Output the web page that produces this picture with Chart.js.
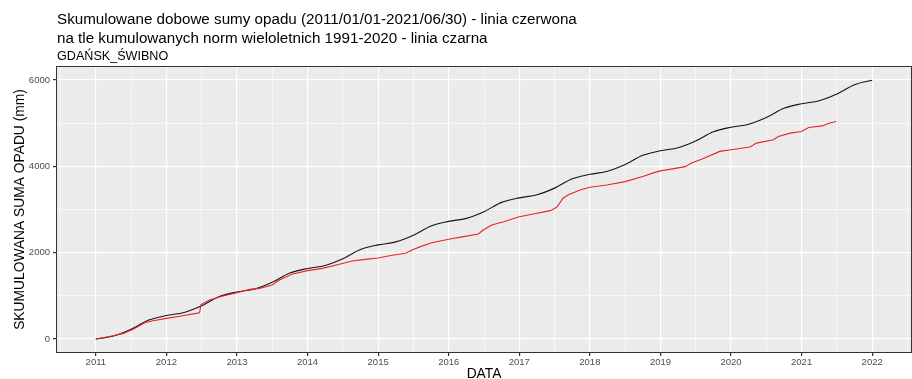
<!DOCTYPE html>
<html>
<head>
<meta charset="utf-8">
<script src="https://cdn.jsdelivr.net/npm/chart.js@4"></script>
<style>
  body { margin: 0; background: #fff; font-family: "Liberation Sans", Arial, sans-serif; }
  #wrap { position: relative; width: 912px; height: 379px; }
  #title { position: absolute; left: 57px; top: 9px; color: #000; }
  #title .t { font-size: 15.2px; line-height: 19px; }
  #title .s { font-size: 12.6px; line-height: 18px; }
</style>
</head>
<body>
<div id="wrap">
  <canvas id="chart" width="912" height="379"></canvas>
  <div id="title">
    <div class="t">Skumulowane dobowe sumy opadu (2011/01/01-2021/06/30) - linia czerwona</div>
    <div class="t">na tle kumulowanych norm wieloletnich 1991-2020 - linia czarna</div>
    <div class="s">GDAŃSK_ŚWIBNO</div>
  </div>
</div>
<script>
// ── Data (decimal years / mm) ────────────────────────────────────────────────
// cumulative long-term norm 1991-2020, read quarterly
const normYears = [
  2011.00, 2011.25, 2011.50, 2011.75, 2012.00, 2012.25, 2012.50, 2012.75,
  2013.00, 2013.25, 2013.50, 2013.75, 2014.00, 2014.25, 2014.50, 2014.75,
  2015.00, 2015.25, 2015.50, 2015.75, 2016.00, 2016.25, 2016.50, 2016.75,
  2017.00, 2017.25, 2017.50, 2017.75, 2018.00, 2018.25, 2018.50, 2018.75,
  2019.00, 2019.25, 2019.50, 2019.75, 2020.00, 2020.25, 2020.50, 2020.75,
  2021.00, 2021.25, 2021.50, 2021.75, 2022.00
];
const normValues = [
  0, 70, 225, 440, 545, 615, 770, 985,
  1090, 1160, 1315, 1530, 1635, 1705, 1860, 2075,
  2180, 2250, 2405, 2620, 2725, 2795, 2950, 3165,
  3270, 3340, 3495, 3710, 3815, 3885, 4040, 4255,
  4360, 4430, 4585, 4800, 4905, 4975, 5130, 5345,
  5450, 5520, 5675, 5890, 5995
];

// cumulative daily precipitation 2011/01/01 - 2021/06/30
const sumYears = [
  2011.00, 2011.25, 2011.39, 2011.53, 2011.69, 2011.81, 2012.00, 2012.23,
  2012.42, 2012.47, 2012.49, 2012.61, 2012.80, 2013.00, 2013.18, 2013.32,
  2013.50, 2013.60, 2013.79, 2014.00, 2014.21, 2014.45, 2014.63, 2014.82,
  2015.00, 2015.20, 2015.39, 2015.48, 2015.60, 2015.76, 2016.00, 2016.21,
  2016.42, 2016.49, 2016.61, 2016.78, 2017.00, 2017.20, 2017.44, 2017.53,
  2017.62, 2017.69, 2017.86, 2018.00, 2018.24, 2018.50, 2018.75, 2018.92,
  2019.00, 2019.19, 2019.35, 2019.44, 2019.60, 2019.84, 2020.00, 2020.27,
  2020.36, 2020.60, 2020.67, 2020.84, 2021.00, 2021.10, 2021.29, 2021.39,
  2021.49
];
const sumValues = [
  0, 77, 131, 224, 379, 425, 479, 541,
  595, 610, 800, 904, 996, 1073, 1150, 1174,
  1251, 1367, 1506, 1584, 1637, 1730, 1807, 1846,
  1877, 1939, 1985, 2063, 2140, 2232, 2310, 2372,
  2433, 2526, 2642, 2718, 2834, 2897, 2974, 3051,
  3260, 3337, 3453, 3515, 3569, 3646, 3762, 3860,
  3895, 3946, 3992, 4077, 4177, 4346, 4385, 4446,
  4538, 4615, 4692, 4769, 4808, 4900, 4936, 4999,
  5036
];

// ── Axis breaks ──────────────────────────────────────────────────────────────
const xBreaks = [2011, 2012, 2013, 2014, 2015, 2016, 2017, 2018, 2019, 2020, 2021, 2022];
const xMinor  = [2010.5, 2011.5, 2012.5, 2013.5, 2014.5, 2015.5, 2016.5, 2017.5, 2018.5, 2019.5, 2020.5, 2021.5, 2022.5];
const yBreaks = [0, 2000, 4000, 6000];
const yMinor  = [1000, 3000, 5000];

const toPoints = (xs, ys) => xs.map((x, i) => ({ x: x, y: ys[i] }));

// ggplot-ish grid: white major/minor lines, ticks only on majors
function gridFor(majors) {
  const isMajor = ctx => ctx.tick && majors.includes(ctx.tick.value);
  return {
    color:      "#ffffff",
    lineWidth:  ctx => isMajor(ctx) ? 1.2 : 0.6,
    tickColor:  ctx => isMajor(ctx) ? "#333333" : "rgba(0,0,0,0)",
    tickLength: 4,
    drawTicks:  true,
  };
}

function setTicks(majors, minors) {
  return scale => {
    scale.ticks = majors.concat(minors).sort((a, b) => a - b).map(v => ({ value: v }));
  };
}

// grey panel background + dark frame
const panel = {
  id: "panel",
  beforeDraw(chart) {
    const { ctx, chartArea: a } = chart;
    ctx.save();
    ctx.fillStyle = "#ebebeb";
    ctx.fillRect(a.left, a.top, a.right - a.left, a.bottom - a.top);
    ctx.restore();
  },
  afterDraw(chart) {
    const { ctx, chartArea: a } = chart;
    ctx.save();
    ctx.strokeStyle = "#333333";
    ctx.lineWidth = 1;
    ctx.strokeRect(a.left - 0.5, a.top - 0.5, a.right - a.left + 1, a.bottom - a.top + 1);
    ctx.restore();
  },
};

const tickFont = { family: "Liberation Sans, Arial, sans-serif", size: 9.5 };
const axisFont = { family: "Liberation Sans, Arial, sans-serif", size: 13.8 };

new Chart(document.getElementById("chart").getContext("2d"), {
  type: "line",
  data: {
    datasets: [
      {
        label: "suma",
        data: toPoints(sumYears, sumValues),
        borderColor: "#e5262b",
        borderWidth: 1.1,
        pointRadius: 0,
        tension: 0,
        order: 0,
      },
      {
        label: "norma",
        data: toPoints(normYears, normValues),
        borderColor: "#141414",
        borderWidth: 1.1,
        pointRadius: 0,
        cubicInterpolationMode: "monotone",
        order: 1,
      },
    ],
  },
  options: {
    responsive: false,
    animation: false,
    layout: { padding: { top: 67, right: 1, left: 0, bottom: 0 } },
    plugins: { legend: { display: false }, tooltip: { enabled: false }, title: { display: false } },
    scales: {
      x: {
        type: "linear",
        min: 2010.45,
        max: 2022.55,
        afterBuildTicks: setTicks(xBreaks, xMinor),
        afterFit: s => { s.height = 27; },
        grid: gridFor(xBreaks),
        border: { display: false },
        ticks: {
          autoSkip: false,
          maxRotation: 0,
          padding: 1,
          color: "#4d4d4d",
          font: tickFont,
          callback: v => xBreaks.includes(v) ? String(v) : "",
        },
        title: { display: true, text: "DATA", color: "#000", font: axisFont, padding: { top: 0, bottom: -3 } },
      },
      y: {
        type: "linear",
        min: -300,
        max: 6300,
        afterBuildTicks: setTicks(yBreaks, yMinor),
        afterFit: s => { s.width = 57; },
        grid: gridFor(yBreaks),
        border: { display: false },
        ticks: {
          padding: 3,
          color: "#4d4d4d",
          font: tickFont,
          callback: v => yBreaks.includes(v) ? String(v) : "",
        },
        title: { display: true, text: "SKUMULOWANA SUMA OPADU (mm)", color: "#000", font: axisFont, padding: { top: 12, bottom: 0 } },
      },
    },
  },
  plugins: [panel],
});
</script>
</body>
</html>
